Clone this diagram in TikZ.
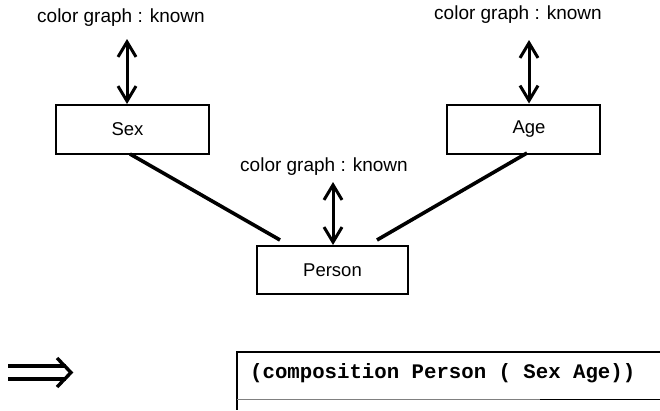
\documentclass[tikz,border=0pt]{standalone}
\usepackage{fontspec}
\setmainfont{Liberation Sans}
\setmonofont{Liberation Mono}
\usetikzlibrary{arrows.meta}
\begin{document}
\begin{tikzpicture}[x=1pt,y=-1pt,
  box/.style={draw, line width=2pt, minimum width=153pt, minimum height=49pt, inner sep=0pt, font=\fontsize{18.5}{20}\selectfont},
  lbl/.style={inner sep=0pt, font=\fontsize{19}{21}\selectfont},
  dbl/.style={line width=3pt, {Straight Barb[length=15pt,width=18pt]}-{Straight Barb[length=15pt,width=18pt]}},
  edge/.style={line width=3.6pt},
  impl/.style={line width=3.4pt}]
\useasboundingbox (0,0) rectangle (660,410);
% boxes
\node[box] (sex) at (132.5,129.5) {\hspace*{-10pt}Sex};
\node[box] (age) at (523.5,129) {Age\hspace*{-11pt}};
\node[box, minimum width=151pt, minimum height=48pt] (person) at (332.5,270) {Person};
% labels
\node[lbl] (l1) at (121,18) {color graph : known};
\node[lbl] (l2) at (518,15) {color graph : known};
\node[lbl] (l3) at (324,167) {color graph : known};
% arrow tops
\coordinate (t1) at (127,39);
\coordinate (t2) at (529,40);
\coordinate (t3) at (333,182);
\draw[dbl] (t1) -- (t1 |- sex.north);
\draw[dbl] (t2) -- (t2 |- age.north);
\draw[dbl] (t3) -- (t3 |- person.north);
% edges
\coordinate (s1) at (130,154);
\coordinate (e1) at (280,240);
\coordinate (s2) at (527,153);
\coordinate (e2) at (377,240);
\draw[edge] (s1) -- (e1);
\draw[edge] (s2) -- (e2);
% implies arrow
\draw[impl] (8,366) -- (66,366);
\draw[impl] (8,379) -- (66,379);
\draw[impl, line join=miter] (57,358) -- (71,372.5) -- (57,387);
% code box
\node[anchor=west, inner sep=0pt, font=\fontsize{20.7}{22}\selectfont\ttfamily\bfseries] (code) at (250,373) {(composition Person ( Sex Age))};
\draw[line width=2pt] (660,352) -- (237,352) -- (237,410);
\draw[line width=1.2pt, gray] (237,399.5) -- (540,399.5);
\draw[line width=1.8pt] (540,399.5) -- (660,399.5);
\end{tikzpicture}
\end{document}
